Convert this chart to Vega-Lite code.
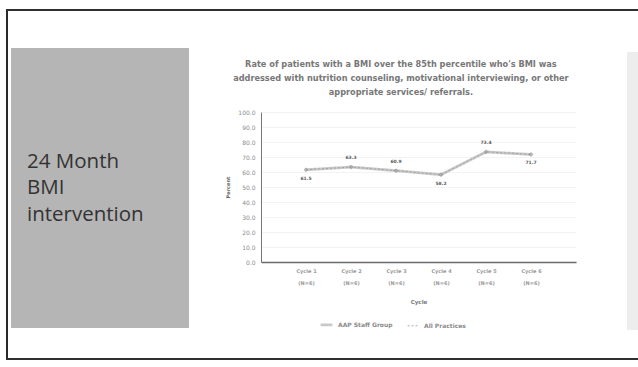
{
  "$schema": "https://vega.github.io/schema/vega-lite/v6.json",
  "padding": {"left": 6, "top": 9, "right": 0, "bottom": 0},
  "background": "white",
  "config": {"view": {"stroke": null}, "font": "DejaVu Sans"},
  "spacing": 0,
  "vconcat": [
    {
      "width": 632, "height": 2,
      "view": {"fill": "#303030", "stroke": null},
      "data": {"values": []},
      "mark": "point"
    },
    {
      "spacing": 3,
      "hconcat": [
        {
          "width": 2, "height": 347,
          "view": {"fill": "#2a2a2a", "stroke": null},
          "data": {"values": []},
          "mark": "point"
        },
        {
          "spacing": 51,
          "hconcat": [
            {
              "spacing": 36,
              "hconcat": [
                {
                  "spacing": 36,
                  "vconcat": [
                    {"width": 1, "height": 1, "data": {"values": []}, "mark": "point"},
                    {
                      "width": 178,
                      "height": 280,
                      "view": {"fill": "#b5b5b5", "stroke": null},
                      "data": {"values": [{"label": "24 Month\nBMI\nintervention"}]},
                      "mark": {"type": "text", "align": "left", "baseline": "middle", "lineBreak": "\n", "fontSize": 20.5, "lineHeight": 26.5, "color": "#333333", "font": "Open Sans"},
                      "encoding": {
                        "text": {"field": "label"},
                        "x": {"datum": 0.09, "type": "quantitative", "scale": {"domain": [0, 1]}, "axis": null},
                        "y": {"datum": 0.593, "type": "quantitative", "scale": {"domain": [0, 1]}, "axis": null}
                      }
                    }
                  ]
                },
                {
                  "spacing": 48,
                  "vconcat": [
                    {"width": 1, "height": 1, "data": {"values": []}, "mark": "point"},
                    {
                      "width": 315,
                      "height": 150,
                      "title": {
                        "text": ["Rate of patients with a BMI over the 85th percentile who's BMI was", "addressed with nutrition counseling, motivational interviewing, or other", "appropriate services/ referrals."],
                        "fontSize": 8.2, "fontWeight": "bold", "color": "#777777", "lineHeight": 13.8, "frame": "bounds", "anchor": "middle", "offset": 12
                      },
                      "data": {"values": [
                        {"cycle": "Cycle 1 (N=6)", "series": "AAP Staff Group", "value": 61.5},
                        {"cycle": "Cycle 2 (N=6)", "series": "AAP Staff Group", "value": 63.3},
                        {"cycle": "Cycle 3 (N=6)", "series": "AAP Staff Group", "value": 60.9},
                        {"cycle": "Cycle 4 (N=6)", "series": "AAP Staff Group", "value": 58.2},
                        {"cycle": "Cycle 5 (N=6)", "series": "AAP Staff Group", "value": 73.4},
                        {"cycle": "Cycle 6 (N=6)", "series": "AAP Staff Group", "value": 71.7},
                        {"cycle": "Cycle 1 (N=6)", "series": "All Practices", "value": 61.5},
                        {"cycle": "Cycle 2 (N=6)", "series": "All Practices", "value": 63.3},
                        {"cycle": "Cycle 3 (N=6)", "series": "All Practices", "value": 60.9},
                        {"cycle": "Cycle 4 (N=6)", "series": "All Practices", "value": 58.2},
                        {"cycle": "Cycle 5 (N=6)", "series": "All Practices", "value": 73.4},
                        {"cycle": "Cycle 6 (N=6)", "series": "All Practices", "value": 71.7}
                      ]},
                      "encoding": {
                        "x": {
                          "field": "cycle", "type": "ordinal", "sort": null,
                          "scale": {"type": "point", "padding": 1},
                          "axis": {
                            "labelExpr": "[split(datum.label, ' (')[0], '(' + split(datum.label, ' (')[1]]",
                            "labelAngle": 0, "labelFontSize": 5, "labelFontWeight": "bold", "labelColor": "#9a9a9a",
                            "labelPadding": 6, "labelLineHeight": 12, "ticks": false,
                            "domainColor": "#6a6a6a", "domainWidth": 1.5, "grid": false,
                            "title": "Cycle", "titleFontSize": 5.5, "titleFontWeight": "bold", "titleColor": "#777777", "titlePadding": 14
                          }
                        },
                        "y": {
                          "field": "value", "type": "quantitative",
                          "scale": {"domain": [0, 100], "nice": false},
                          "axis": {
                            "values": [0, 10, 20, 30, 40, 50, 60, 70, 80, 90, 100], "format": ".1f",
                            "labelFontSize": 6, "labelColor": "#8a8a8a", "labelPadding": 6, "ticks": false,
                            "domainColor": "#777777", "domainWidth": 1,
                            "gridColor": "#f0f0f0", "gridWidth": 0.8,
                            "title": "Percent", "titleFontSize": 5, "titleFontWeight": "bold", "titleColor": "#666666", "titlePadding": 7
                          }
                        }
                      },
                      "layer": [
                        {
                          "mark": {"type": "line"},
                          "encoding": {
                            "color": {"field": "series", "type": "nominal", "scale": {"domain": ["AAP Staff Group", "All Practices"], "range": ["#c8c8c8", "#9a9a9a"]},
                              "legend": {"orient": "none", "legendX": 313, "legendY": 308, "direction": "horizontal", "title": null, "labelFontSize": 6, "labelFontWeight": "bold", "labelColor": "#8a8a8a", "symbolType": "stroke", "symbolSize": 140, "columnPadding": 12}},
                            "strokeDash": {"field": "series", "type": "nominal", "scale": {"domain": ["AAP Staff Group", "All Practices"], "range": [[1, 0], [2, 2]]}, "legend": null},
                            "strokeWidth": {"field": "series", "type": "nominal", "scale": {"domain": ["AAP Staff Group", "All Practices"], "range": [2.8, 0.8]}, "legend": null}
                          }
                        },
                        {
                          "transform": [{"filter": "datum.series == 'AAP Staff Group'"}],
                          "mark": {"type": "point", "filled": true, "size": 16, "shape": "diamond", "color": "#b0b0b0"}
                        },
                        {
                          "transform": [{"filter": "datum.series == 'All Practices'"}],
                          "mark": {"type": "point", "filled": false, "size": 10, "shape": "cross", "color": "#8a8a8a", "strokeWidth": 0.6}
                        },
                        {
                          "transform": [{"filter": "datum.series == 'AAP Staff Group' && indexof(['Cycle 2 (N=6)', 'Cycle 3 (N=6)', 'Cycle 5 (N=6)'], datum.cycle) >= 0"}],
                          "mark": {"type": "text", "fontSize": 4.5, "fontWeight": "bold", "color": "#5a5a5a", "dy": -9},
                          "encoding": {"text": {"field": "value", "type": "quantitative", "format": ".1f"}}
                        },
                        {
                          "transform": [{"filter": "datum.series == 'AAP Staff Group' && indexof(['Cycle 2 (N=6)', 'Cycle 3 (N=6)', 'Cycle 5 (N=6)'], datum.cycle) < 0"}],
                          "mark": {"type": "text", "fontSize": 4.5, "fontWeight": "bold", "color": "#5a5a5a", "dy": 9},
                          "encoding": {"text": {"field": "value", "type": "quantitative", "format": ".1f"}}
                        }
                      ]
                    }
                  ]
                }
              ]
            },
            {
              "spacing": 40,
              "vconcat": [
                {"width": 1, "height": 1, "data": {"values": []}, "mark": "point"},
                {
                  "width": 11, "height": 278,
                  "view": {"fill": "#ededed", "stroke": null},
                  "data": {"values": []},
                  "mark": "point"
                }
              ]
            }
          ]
        }
      ]
    },
    {
      "width": 632, "height": 2,
      "view": {"fill": "#303030", "stroke": null},
      "data": {"values": []},
      "mark": "point"
    }
  ]
}
